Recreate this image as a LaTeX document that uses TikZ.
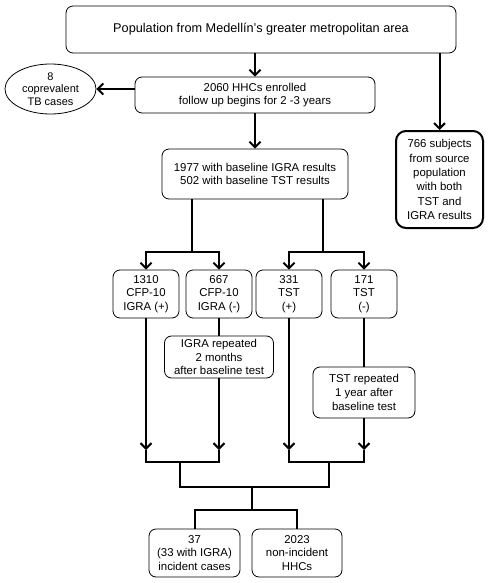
\documentclass[tikz,border=0pt]{standalone}
\usepackage{fontspec}
\setmainfont{Liberation Sans}
\usetikzlibrary{arrows.meta,shapes.geometric}
\begin{document}
\begin{tikzpicture}[x=1pt,y=-1pt,
  box/.style={draw,rounded corners=7pt,line width=0.8pt,align=center,inner sep=1pt,
    font=\fontsize{11.4}{13.6}\selectfont},
  thickbox/.style={box,line width=2pt},
  ln/.style={line width=2pt},
  arr/.style={ln,-{Straight Barb[length=5.5pt,width=11pt]}}]
\useasboundingbox (0,0) rectangle (498,583);
\node[box,minimum width=390pt,minimum height=47pt,font=\fontsize{12.7}{14}\selectfont] (top) at (261,29.5)
  {Population from Medellín’s greater metropolitan area};
\node[box,minimum width=240pt,minimum height=36pt] (hhc) at (255,95)
  {2060 HHCs enrolled\\follow up begins for 2 -3 years};
\node[draw,ellipse,line width=0.8pt,minimum width=91pt,minimum height=50pt,inner sep=0pt,align=center,
  font=\fontsize{11}{12.5}\selectfont] (cop) at (50.5,89) {8\\coprevalent\\TB cases};
\node[thickbox,minimum width=87pt,minimum height=97pt,rounded corners=10pt,
  font=\fontsize{11.4}{14.3}\selectfont] (s766) at (439.5,179.5)
  {766 subjects\\from source\\population\\with both\\TST and\\IGRA results};
\node[box,minimum width=186pt,minimum height=50pt] (base) at (255,174)
  {1977 with baseline IGRA results\\502 with baseline TST results};
\node[box,minimum width=66pt,minimum height=48pt] (c1) at (146,294) {1310\\CFP-10\\IGRA (+)};
\node[box,minimum width=66pt,minimum height=48pt] (c2) at (219,294) {667\\CFP-10\\IGRA (-)};
\node[box,minimum width=66pt,minimum height=48pt] (c3) at (289,294) {331\\TST\\(+)};
\node[box,minimum width=66pt,minimum height=48pt] (c4) at (364,294) {171\\TST\\(-)};
\node[box,minimum width=109pt,minimum height=42pt] (irep) at (219,357)
  {IGRA repeated\\2 months\\after baseline test};
\node[box,minimum width=102pt,minimum height=51pt] (trep) at (364,392.5)
  {TST repeated\\1 year after\\baseline test};
\node[box,minimum width=91pt,minimum height=48pt] (n37) at (194.5,553)
  {37\\(33 with IGRA)\\incident cases};
\node[box,minimum width=90pt,minimum height=48pt] (n2023) at (297,553)
  {2023\\non-incident\\HHCs};
% junction coordinates
\coordinate (jL) at (192,252);
\coordinate (jR) at (323,252);
\coordinate (tip) at (0,450);
\coordinate (bar1) at (180,462);
\coordinate (bar2) at (329,462);
\coordinate (mid) at (252,487);
\coordinate (lo) at (252,510);
% connectors
\draw[arr] (top.south -| hhc) -- (hhc.north);
\draw[arr] (hhc.west |- cop) -- (cop.east);
\draw[arr] (top.south -| s766) -- (s766.north);
\draw[arr] (hhc.south) -- (base.north);
\draw[ln] (base.south -| jL) -- (jL);
\draw[ln] (base.south -| jR) -- (jR);
\draw[arr] (jL) -| (c1.north);
\draw[arr] (jL) -| (c2.north);
\draw[arr] (jR) -| (c3.north);
\draw[arr] (jR) -| (c4.north);
\draw[ln] (c2.south) -- (irep.north);
\draw[ln] (c4.south) -- (trep.north);
\draw[arr] (c1.south) -- (c1 |- tip);
\draw[arr] (irep.south) -- (irep |- tip);
\draw[arr] (c3.south) -- (c3 |- tip);
\draw[arr] (trep.south) -- (trep |- tip);
\draw[ln] (c1 |- tip) -- (c1 |- bar1) -- (irep |- bar1) -- (irep |- tip);
\draw[ln] (c3 |- tip) -- (c3 |- bar2) -- (trep |- bar2) -- (trep |- tip);
\draw[ln] (bar1) -- (bar1 |- mid) -- (bar2 |- mid) -- (bar2);
\draw[ln] (mid) -- (lo);
\draw[ln] (n37.north) -- (n37 |- lo) -- (n2023 |- lo) -- (n2023.north);
\end{tikzpicture}
\end{document}
